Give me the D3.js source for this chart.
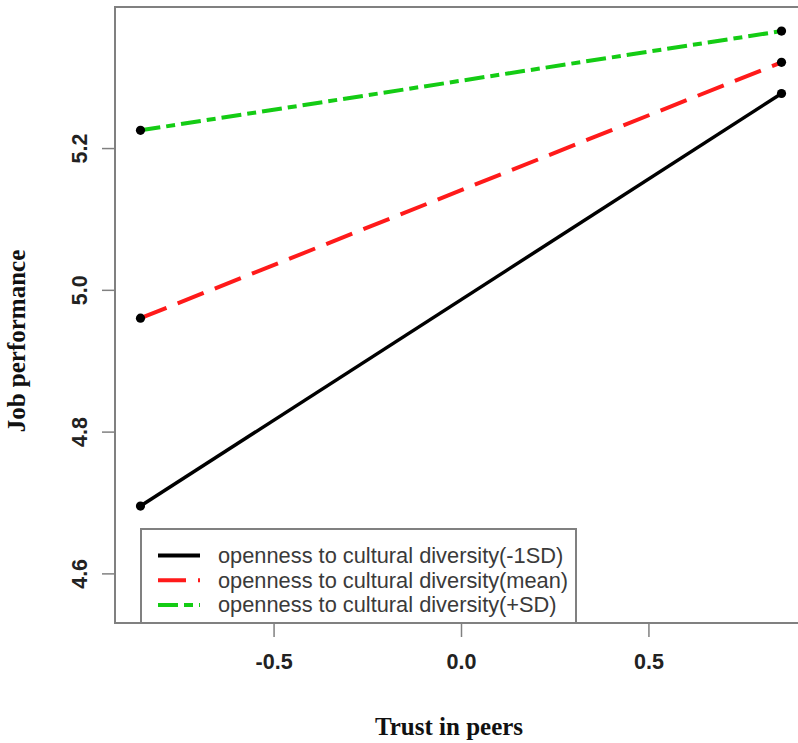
<!DOCTYPE html>
<html>
<head>
<meta charset="utf-8">
<script src="https://cdn.jsdelivr.net/npm/d3@7"></script>
<style>
  html, body { margin: 0; padding: 0; background: #fff; }
  svg { display: block; }
</style>
</head>
<body>
<svg id="chart" width="798" height="743"></svg>
<script>
// ---- data ----
const trustLevels = [-0.855, 0.855];
const lowSD  = [4.695, 5.277];
const meanSD = [4.960, 5.321];
const highSD = [5.225, 5.365];
const seriesNames = [
  "openness to cultural diversity(-1SD)",
  "openness to cultural diversity(mean)",
  "openness to cultural diversity(+SD)"
];
const xTicks = [-0.5, 0.0, 0.5];
const yTicks = [4.6, 4.8, 5.0, 5.2];
const xTitle = "Trust in peers";
const yTitle = "Job performance";

// ---- styles ----
const styles = [
  { color: "#000000", dash: null, width: 3.5 },
  { color: "#ff1a1a", dash: "28,12", width: 4 },
  { color: "#14cc14", dash: "20,6,9,6", width: 4 }
];
const series = [lowSD, meanSD, highSD];
const fmt = d => d.toFixed(1);

const svg = d3.select("#chart");
const x = d3.scaleLinear().domain([-0.923, 0.923]).range([115, 807]);
const y = d3.scaleLinear().domain([4.53, 5.399]).range([623, 7]);
const frameColor = "#808080";

// axes
const xAxis = svg.append("g")
  .attr("transform", `translate(0,${y.range()[0]})`)
  .call(d3.axisBottom(x).tickValues(xTicks).tickFormat(fmt).tickSize(14));
xAxis.select(".domain").remove();
xAxis.selectAll("line").attr("stroke", frameColor).attr("stroke-width", 1.5);
xAxis.selectAll("text")
  .attr("y", 46).attr("dy", 0)
  .attr("font-family", "'Liberation Sans', Arial, sans-serif")
  .attr("font-weight", "bold").attr("font-size", "21.5px").attr("fill", "#222");

const yAxis = svg.append("g")
  .attr("transform", `translate(${x.range()[0]},0)`)
  .call(d3.axisLeft(y).tickValues(yTicks).tickFormat(fmt).tickSize(13));
yAxis.select(".domain").remove();
yAxis.selectAll("line").attr("stroke", frameColor).attr("stroke-width", 1.5);
yAxis.selectAll("text")
  .attr("transform", "rotate(-90)")
  .attr("x", 0).attr("y", -28).attr("dy", 0)
  .attr("text-anchor", "middle")
  .attr("font-family", "'Liberation Sans', Arial, sans-serif")
  .attr("font-weight", "bold").attr("font-size", "21.5px").attr("fill", "#222");

// frame
svg.append("rect")
  .attr("x", x.range()[0]).attr("y", y.range()[1])
  .attr("width", x.range()[1] - x.range()[0])
  .attr("height", y.range()[0] - y.range()[1])
  .attr("fill", "none").attr("stroke", frameColor).attr("stroke-width", 2);

// lines
const line = d3.line().x((d, i) => x(trustLevels[i])).y(d => y(d));
series.forEach((s, k) => {
  svg.append("path")
    .datum(s)
    .attr("d", line)
    .attr("fill", "none")
    .attr("stroke", styles[k].color)
    .attr("stroke-width", styles[k].width)
    .attr("stroke-dasharray", styles[k].dash);
});
series.forEach((s) => {
  svg.selectAll(null).data(s).enter().append("circle")
    .attr("cx", (d, i) => x(trustLevels[i]))
    .attr("cy", d => y(d))
    .attr("r", 4.6)
    .attr("fill", "#000");
});

// legend
const lg = svg.append("g");
lg.append("rect")
  .attr("x", 141).attr("y", 529).attr("width", 435).attr("height", 94)
  .attr("fill", "#fff").attr("stroke", frameColor).attr("stroke-width", 2);
seriesNames.forEach((name, k) => {
  const ly = 555.5 + k * 24.7;
  lg.append("line")
    .attr("x1", 158).attr("x2", 200).attr("y1", ly).attr("y2", ly)
    .attr("stroke", styles[k].color).attr("stroke-width", 4)
    .attr("stroke-dasharray", styles[k].dash);
  lg.append("text")
    .attr("x", 218).attr("y", ly + 7.5)
    .attr("font-family", "'Liberation Sans', Arial, sans-serif")
    .attr("font-size", "21.8px").attr("fill", "#3a3a3a")
    .text(name);
});

// titles
svg.append("text")
  .attr("x", 449).attr("y", 735)
  .attr("text-anchor", "middle")
  .attr("font-family", "'Liberation Serif', 'Times New Roman', serif")
  .attr("font-weight", "bold").attr("font-size", "25px").attr("fill", "#111")
  .text(xTitle);
svg.append("text")
  .attr("transform", "translate(25,341) rotate(-90)")
  .attr("text-anchor", "middle")
  .attr("font-family", "'Liberation Serif', 'Times New Roman', serif")
  .attr("font-weight", "bold").attr("font-size", "25px").attr("fill", "#111")
  .text(yTitle);
</script>
</body>
</html>
